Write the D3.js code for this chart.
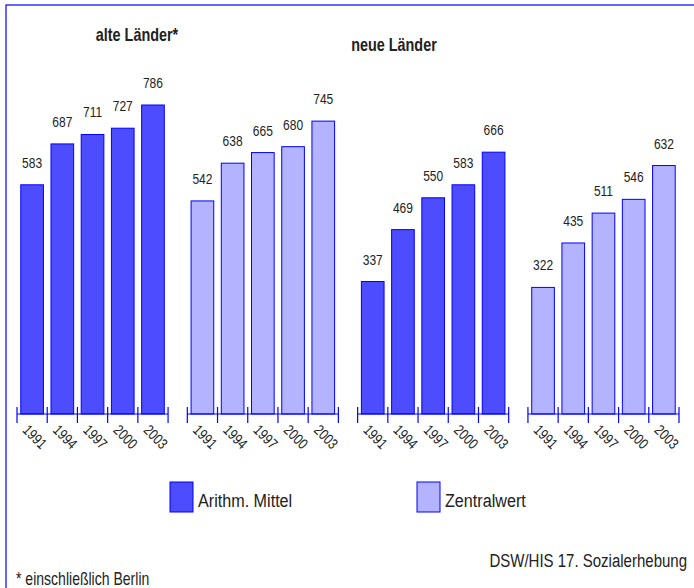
<!DOCTYPE html>
<html>
<head>
<meta charset="utf-8">
<script src="https://cdn.jsdelivr.net/npm/d3@7"></script>
<style>
  body { margin: 0; background: #fff; }
  text { font-family: "Liberation Sans", Arial, sans-serif; fill: #222; }
</style>
</head>
<body>
<div id="chart"></div>
<script>
// data
var years = ["1991", "1994", "1997", "2000", "2003"];
var regions = ["alte Länder*", "neue Länder"];
var seriesNames = ["Arithm. Mittel", "Zentralwert"];
var alteMittel = [583, 687, 711, 727, 786];
var alteZentral = [542, 638, 665, 680, 745];
var neueMittel = [337, 469, 550, 583, 666];
var neueZentral = [322, 435, 511, 546, 632];

var groups = [
  { key: "a-m", region: 0, series: 0, values: alteMittel },
  { key: "a-z", region: 0, series: 1, values: alteZentral },
  { key: "n-m", region: 1, series: 0, values: neueMittel },
  { key: "n-z", region: 1, series: 1, values: neueZentral }
];

var W = 694, H = 588;
var fills = ["#4d4dff", "#b3b3ff"];
var blue = "#0000ff";
var baseY = 414;

// no condensed font installed, so squeeze text sideways
function place(x, y, rot, sx) {
  return "translate(" + x + "," + y + ")" + (rot ? " rotate(" + rot + ")" : "") +
    " scale(" + (sx || 0.8) + ",1)";
}

var svg = d3.select("#chart").append("svg")
    .attr("width", W).attr("height", H);

// frame
svg.append("rect")
    .attr("x", 6).attr("y", 5)
    .attr("width", 720).attr("height", 620)
    .attr("fill", "none").attr("stroke", blue).attr("stroke-width", 1.2);

var x0 = d3.scaleBand()
    .domain(groups.map(function(g) { return g.key; }))
    .range([17, 679])
    .paddingInner(0.113);

var x1 = d3.scaleBand()
    .domain(years)
    .range([0, x0.bandwidth()])
    .paddingInner(0.25).paddingOuter(0.125);

var y = d3.scaleLinear().domain([0, 800]).range([baseY, baseY - 314.5]);

// region titles
var titlePos = [[137, 41], [394, 51]];
svg.selectAll("text.title")
  .data(regions).enter()
  .append("text")
    .attr("class", "title")
    .attr("transform", function(d, i) { return place(titlePos[i][0], titlePos[i][1]); })
    .attr("text-anchor", "middle")
    .attr("font-size", 18)
    .attr("font-weight", "bold")
    .text(function(d) { return d; });

var g = svg.selectAll("g.grp")
  .data(groups).enter()
  .append("g")
    .attr("class", "grp")
    .attr("transform", function(d) { return "translate(" + x0(d.key) + ",0)"; });

// bars
g.selectAll("rect")
  .data(function(d) { return d.values.map(function(v, i) { return { v: v, year: years[i], s: d.series }; }); })
  .enter().append("rect")
    .attr("x", function(d) { return x1(d.year); })
    .attr("width", x1.bandwidth())
    .attr("y", function(d) { return y(d.v); })
    .attr("height", function(d) { return baseY - y(d.v); })
    .attr("fill", function(d) { return fills[d.s]; })
    .attr("stroke", blue)
    .attr("stroke-width", 1);

// value labels
g.selectAll("text.val")
  .data(function(d) { return d.values.map(function(v, i) { return { v: v, year: years[i] }; }); })
  .enter().append("text")
    .attr("class", "val")
    .attr("transform", function(d) { return place(x1(d.year) + x1.bandwidth() / 2, y(d.v) - 17); })
    .attr("text-anchor", "middle")
    .attr("font-size", 15)
    .text(function(d) { return d.v; });

// axis line with ticks at slot boundaries
g.append("line")
    .attr("x1", 0).attr("x2", x0.bandwidth())
    .attr("y1", baseY).attr("y2", baseY)
    .attr("stroke", blue).attr("stroke-width", 1.2);

var bounds = d3.range(years.length + 1).map(function(i) { return i * x1.step(); });
g.selectAll("line.tick")
  .data(bounds).enter()
  .append("line")
    .attr("class", "tick")
    .attr("x1", function(d) { return d; }).attr("x2", function(d) { return d; })
    .attr("y1", baseY - 7).attr("y2", baseY + 9)
    .attr("stroke", blue).attr("stroke-width", 1.2);

// rotated year labels
g.selectAll("text.year")
  .data(years).enter()
  .append("text")
    .attr("class", "year")
    .attr("transform", function(d) { return place(x1(d) + 1, baseY + 17, 45); })
    .attr("font-size", 15)
    .text(function(d) { return d; });

// legend
var legX = [170, 417];
var leg = svg.selectAll("g.leg")
  .data(seriesNames).enter()
  .append("g")
    .attr("class", "leg")
    .attr("transform", function(d, i) { return "translate(" + legX[i] + ",482)"; });
leg.append("rect")
    .attr("width", 23).attr("height", 30)
    .attr("fill", function(d, i) { return fills[i]; })
    .attr("stroke", blue).attr("stroke-width", 1);
leg.append("text")
    .attr("transform", place(28, 25, 0, 0.85))
    .attr("font-size", 19)
    .text(function(d) { return d; });

// footer
svg.append("text")
    .attr("transform", place(687, 567, 0, 0.79))
    .attr("text-anchor", "end")
    .attr("font-size", 19)
    .text("DSW/HIS 17. Sozialerhebung");
svg.append("text")
    .attr("transform", place(16, 585, 0, 0.78))
    .attr("font-size", 18)
    .text("* einschließlich Berlin");
</script>
</body>
</html>
